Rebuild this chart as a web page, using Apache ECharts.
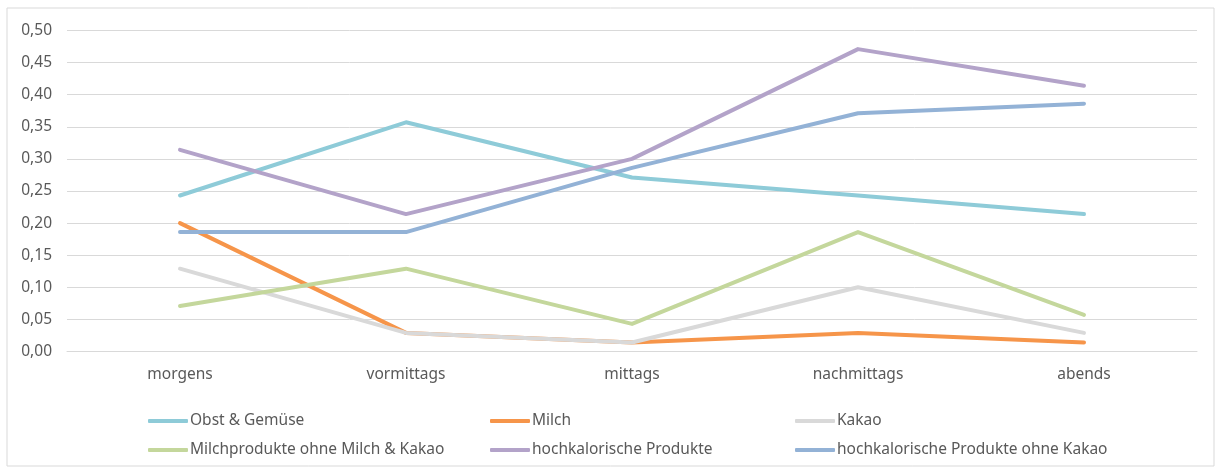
<!DOCTYPE html>
<html>
<head>
<meta charset="utf-8">
<script src="https://cdn.jsdelivr.net/npm/echarts@6/dist/echarts.min.js"></script>
<style>
  html, body { margin: 0; padding: 0; background: #ffffff; }
  #chart { width: 1217px; height: 468px; }
</style>
</head>
<body>
<div id="chart"></div>
<script>
// Tageszeiten
const categories = ['morgens', 'vormittags', 'mittags', 'nachmittags', 'abends'];

// Anteile je Produktgruppe
const obstGemuese     = [0.243, 0.357, 0.271, 0.243, 0.214];
const milch           = [0.200, 0.029, 0.014, 0.029, 0.014];
const kakao           = [0.129, 0.029, 0.014, 0.100, 0.029];
const milchprodukte   = [0.071, 0.129, 0.043, 0.186, 0.057];
const hochkalorisch   = [0.314, 0.214, 0.300, 0.471, 0.414];
const hochkalOhneKakao = [0.186, 0.186, 0.286, 0.371, 0.386];

const seriesNames = [
  'Obst & Gemüse',
  'Milch',
  'Kakao',
  'Milchprodukte ohne Milch & Kakao',
  'hochkalorische Produkte',
  'hochkalorische Produkte ohne Kakao'
];
const seriesData = [obstGemuese, milch, kakao, milchprodukte, hochkalorisch, hochkalOhneKakao];
const colors = ['#8ECBD8', '#F6954A', '#D9D9D9', '#C4D79C', '#B3A3C9', '#93B2D6'];

const font = '"Noto Sans", "DejaVu Sans", sans-serif';
const textColor = '#595959';
const fontSize = 15.5;

function legendColumn(names, left) {
  return {
    orient: 'vertical',
    left: left,
    top: 413,
    padding: 0,
    itemGap: 13,
    itemWidth: 40,
    itemHeight: 4,
    icon: 'roundRect',
    data: names,
    textStyle: { fontFamily: font, fontSize: fontSize, color: textColor, padding: [0, 0, 0, -3] }
  };
}

const chart = echarts.init(document.getElementById('chart'), null, { renderer: 'canvas' });
chart.setOption({
  backgroundColor: '#ffffff',
  animation: false,
  color: colors,
  graphic: [{
    type: 'rect',
    shape: { x: 7, y: 8, width: 1207, height: 458 },
    style: { fill: 'none', stroke: '#D9D9D9', lineWidth: 1 },
    z: -1
  }],
  grid: { left: 67, right: 20, top: 30.5, bottom: 116.5, containLabel: false },
  legend: [
    legendColumn([seriesNames[0], seriesNames[3]], 148),
    legendColumn([seriesNames[1], seriesNames[4]], 490),
    legendColumn([seriesNames[2], seriesNames[5]], 795)
  ],
  xAxis: {
    type: 'category',
    data: categories,
    boundaryGap: true,
    axisLine: { show: true, lineStyle: { color: '#D9D9D9', width: 1 } },
    axisTick: { show: false },
    axisLabel: { fontFamily: font, fontSize: fontSize, color: textColor, margin: 15 }
  },
  yAxis: {
    type: 'value',
    min: 0,
    max: 0.5,
    interval: 0.05,
    axisLine: { show: false },
    axisTick: { show: false },
    splitLine: { lineStyle: { color: '#D9D9D9', width: 1 } },
    axisLabel: {
      fontFamily: font, fontSize: fontSize, color: textColor, margin: 15,
      formatter: v => v.toFixed(2).replace('.', ',')
    }
  },
  series: seriesNames.map((name, i) => ({
    name: name,
    type: 'line',
    data: seriesData[i],
    symbol: 'none',
    smooth: false,
    lineStyle: { width: 4, color: colors[i], cap: 'round', join: 'round' },
    itemStyle: { color: colors[i] }
  }))
});
</script>
</body>
</html>
